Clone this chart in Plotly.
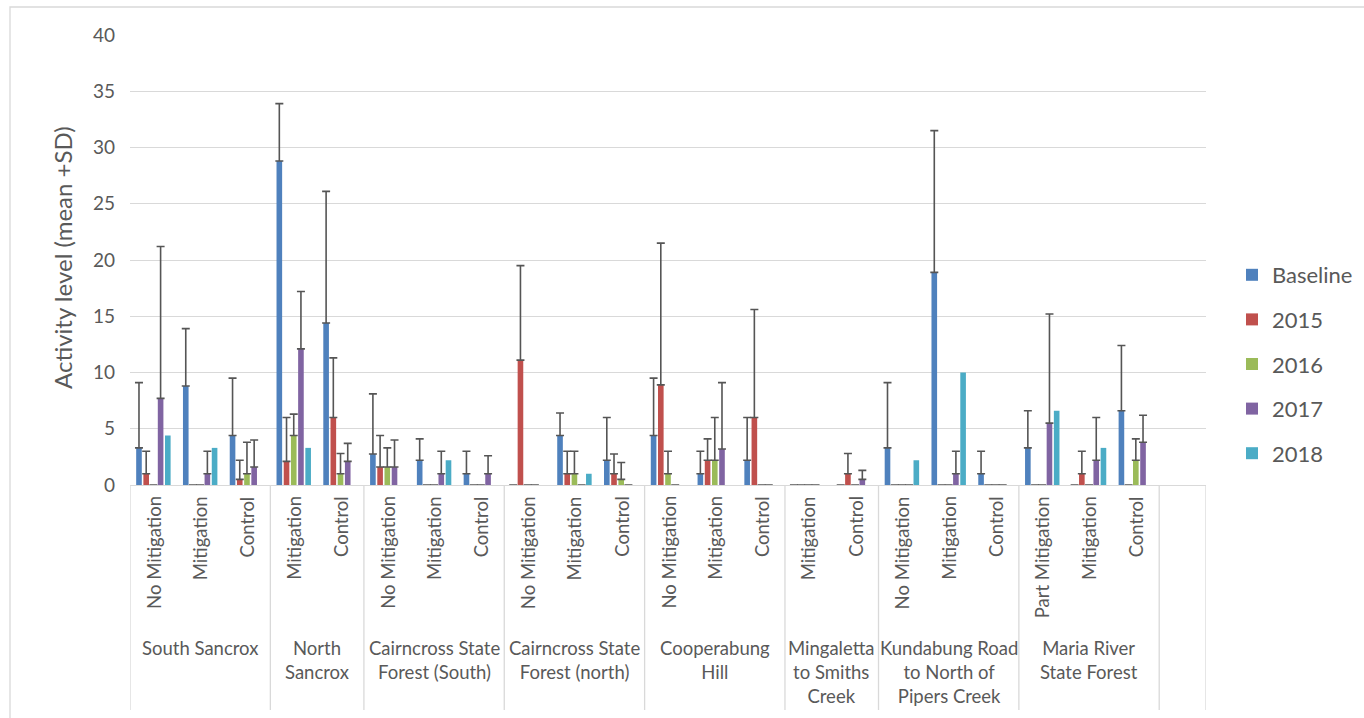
import plotly.graph_objects as go

# ---- data -------------------------------------------------------------
groups = [
    ("South Sancrox", ["No Mitigation", "Mitigation", "Control"]),
    ("North<br>Sancrox", ["Mitigation", "Control"]),
    ("Cairncross State<br>Forest (South)", ["No Mitigation", "Mitigation", "Control"]),
    ("Cairncross State<br>Forest (north)", ["No Mitigation", "Mitigation", "Control"]),
    ("Cooperabung<br>Hill", ["No Mitigation", "Mitigation", "Control"]),
    ("Mingaletta<br>to Smiths<br>Creek", ["Mitigation", "Control"]),
    ("Kundabung Road<br>to North of<br>Pipers Creek", ["No Mitigation", "Mitigation", "Control"]),
    ("Maria River<br>State Forest", ["Part Mitigation", "Mitigation", "Control"]),
]

series_names = ["Baseline", "2015", "2016", "2017", "2018"]

baseline = [3.3, 8.8, 4.4, 28.8, 14.4, 2.75, 2.2, 1.0, 0, 4.4, 2.2,
            4.4, 1.0, 2.2, 0, 0, 3.3, 18.9, 1.0, 3.3, 0, 6.6]
baseline_sd = [5.8, 5.1, 5.1, 5.1, 11.7, 5.35, 1.9, 2.0, None, 2.0, 3.8,
               5.1, 2.0, 3.8, None, None, 5.8, 12.6, 2.0, 3.3, None, 5.8]

y2015 = [1.0, 0, 0.5, 2.1, 6.0, 1.6, 0, 0, 11.1, 1.0, 1.0,
         8.9, 2.2, 6.0, 0, 1.0, 0, 0, 0, 0, 1.0, 0]
y2015_sd = [2.0, None, 1.7, 3.9, 5.3, 2.8, None, None, 8.4, 2.0, 1.75,
            12.6, 1.9, 9.6, None, 1.8, None, None, None, None, 2.0, None]

y2016 = [0, 0, 1.0, 4.4, 1.0, 1.6, 0, 0, 0, 1.0, 0.5,
         1.0, 2.2, 0, 0, 0, 0, 0, 0, 0, 0, 2.2]
y2016_sd = [None, None, 2.8, 1.9, 1.8, 1.7, None, None, None, 2.0, 1.5,
            2.0, 3.8, None, None, None, None, None, None, None, None, 1.9]

y2017 = [7.7, 1.0, 1.6, 12.1, 2.1, 1.6, 1.0, 1.0, 0, 0, 0,
         0, 3.2, 0, 0, 0.5, 0, 1.0, 0, 5.5, 2.2, 3.8]
y2017_sd = [13.5, 2.0, 2.4, 5.1, 1.6, 2.4, 2.0, 1.6, None, None, None,
            None, 5.9, None, None, 0.8, None, 2.0, None, 9.7, 3.8, 2.4]

y2018 = [4.4, 3.3, 0, 3.3, 0, 0, 2.2, 0, 0, 1.0, 0,
         0, 0, 0, 0, 0, 2.2, 10.0, 0, 6.6, 3.3, 0]
y2018_sd = [None] * 22

colors = ["#4F81BD", "#C0504D", "#9BBB59", "#8064A2", "#4BACC6"]

# ---- layout geometry (pixels) -----------------------------------------
W, H = 1364, 718
L, R, T, B = 130, 1364 - 1206, 35, 718 - 485
PW, PH = W - L - R, H - T - B


def py(p):
    """pixel row -> paper y"""
    return (H - B - p) / PH


def px(p):
    """pixel column -> paper x"""
    return (p - L) / PW


FONT = "Lato, Open Sans, sans-serif"
TXT = "#595959"
GRID = "#D9D9D9"

n_cats = sum(len(s) for _, s in groups)
xs = list(range(n_cats))

fig = go.Figure()
all_vals = [baseline, y2015, y2016, y2017, y2018]
all_sd = [baseline_sd, y2015_sd, y2016_sd, y2017_sd, y2018_sd]
for i, (name, vals, sds, col) in enumerate(zip(series_names, all_vals, all_sd, colors)):
    fig.add_trace(go.Bar(
        x=xs, y=vals, name=name, legendgroup=name,
        marker=dict(color=col, line=dict(width=0)),
        error_y=dict(type="data", symmetric=False, array=sds,
                     arrayminus=[0] * len(sds), color="#555555",
                     thickness=1.6, width=4,
                     visible=any(s is not None for s in sds)),
    ))

shapes = []
annotations = []

# sub-category and group labels, plus separators
pos = 0
bounds = [-0.5]
for gname, subs in groups:
    for j, s in enumerate(subs):
        annotations.append(dict(
            x=pos + j, xref="x", y=py(494), yref="paper",
            text=s, textangle=-90, showarrow=False,
            xanchor="center", yanchor="top",
            font=dict(family=FONT, size=18.5, color=TXT)))
    annotations.append(dict(
        x=pos + (len(subs) - 1) / 2, xref="x", y=py(635), yref="paper",
        text=gname, showarrow=False, xanchor="center", yanchor="top",
        font=dict(family=FONT, size=18.5, color=TXT)))
    pos += len(subs)
    bounds.append(pos - 0.5)
bounds.append(pos + 0.5)

for b in bounds:
    shapes.append(dict(type="line", xref="x", yref="paper",
                       x0=b, x1=b, y0=py(485), y1=py(710),
                       line=dict(color=GRID, width=1.3)))

# chart-area outline
shapes.append(dict(type="rect", xref="paper", yref="paper",
                   x0=px(10), x1=px(1380), y0=py(730), y1=py(7),
                   line=dict(color=GRID, width=1.3), layer="below"))

# y-axis title
annotations.append(dict(
    x=px(62), xref="paper", y=py(258), yref="paper",
    text="Activity level (mean +SD)", textangle=-90, showarrow=False,
    xanchor="center", yanchor="middle",
    font=dict(family=FONT, size=24, color=TXT)))

fig.update_layout(
    width=W, height=H,
    margin=dict(l=L, r=R, t=T, b=B, pad=0, autoexpand=False),
    paper_bgcolor="white", plot_bgcolor="white",
    barmode="group", bargap=0.23, bargroupgap=0.22,
    font=dict(family=FONT, color=TXT),
    shapes=shapes, annotations=annotations,
    legend=dict(x=px(1232), xanchor="left", y=py(254), yanchor="top",
                font=dict(family=FONT, size=22, color=TXT),
                tracegroupgap=13, itemwidth=30, bgcolor="rgba(0,0,0,0)"),
    xaxis=dict(range=[-0.5, n_cats + 0.5], showticklabels=False,
               showgrid=False, zeroline=False, ticks="",
               showline=True, linecolor=GRID, linewidth=1.3),
    yaxis=dict(range=[0, 40], dtick=5, showgrid=True, gridcolor=GRID,
               gridwidth=1.3, zeroline=False, ticks="",
               ticklabelstandoff=14,
               tickfont=dict(family=FONT, size=19, color=TXT)),
)

fig.write_html("out.html")
